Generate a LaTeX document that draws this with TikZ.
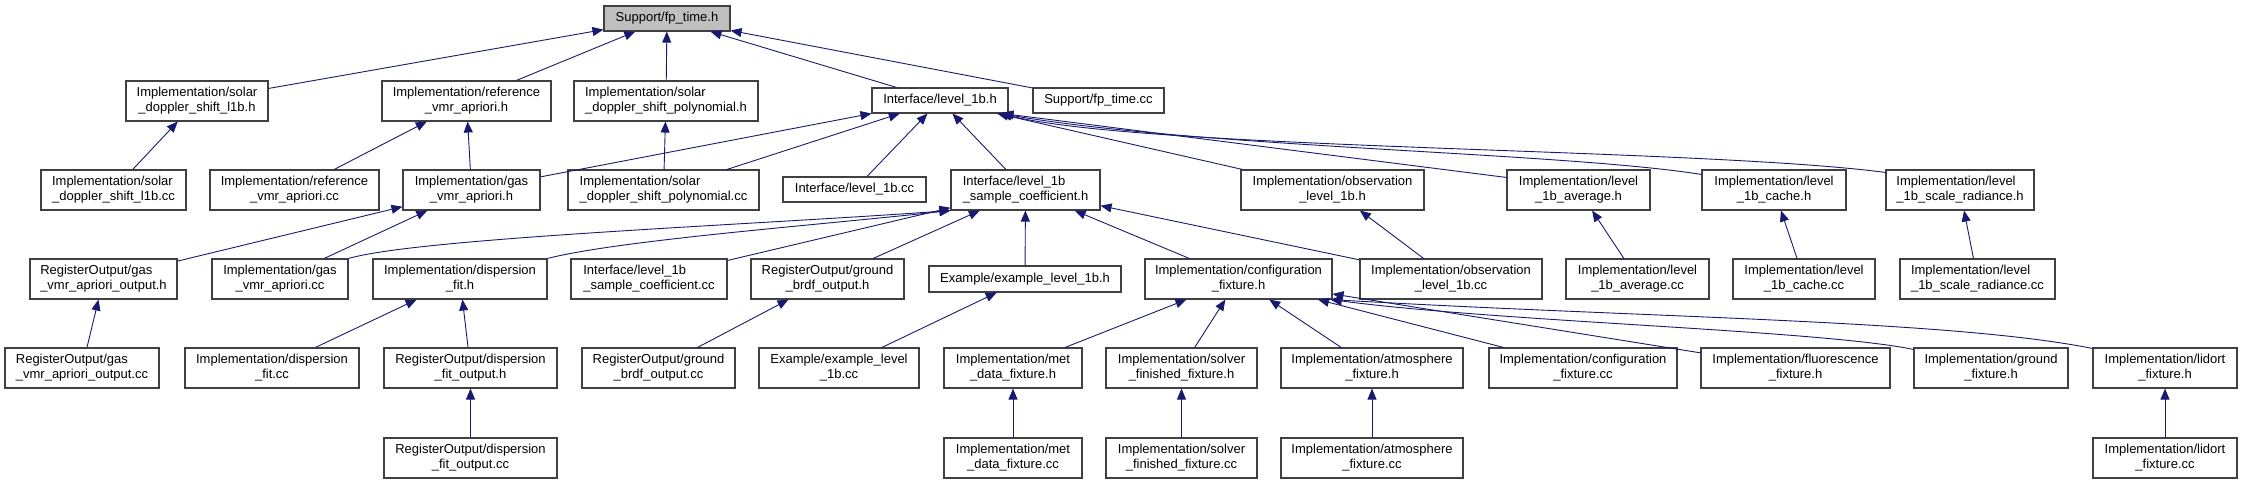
\documentclass[tikz,border=0pt]{standalone}
\usepackage{fontspec}
\setmainfont{Liberation Sans}
\usetikzlibrary{arrows.meta}
\definecolor{edgec}{HTML}{191970}
\definecolor{boxc}{HTML}{404040}
\definecolor{rootc}{HTML}{BFBFBF}
\newcommand{\twol}[2]{\begin{tabular}{@{}l@{}}#1\\\multicolumn{1}{@{}c@{}}{#2}\end{tabular}}
\begin{document}
\begin{tikzpicture}[x=1pt,y=-1pt,
  nb/.style={draw=boxc, fill=white, line width=1.1pt, inner sep=0pt, minimum height=40pt,
    font=\fontsize{13}{14.7}\selectfont},
  nb1/.style={nb, minimum height=25pt},
  root/.style={nb1, fill=rootc},
  edge/.style={draw=edgec, line width=0.9pt, -{Triangle[length=11pt,width=9pt]}}]
\useasboundingbox (0,0) rectangle (2242,484);
% row 0
\node[root, minimum width=126pt] (fp) at (667,18.5) {Support/fp\_time.h};
% row 1
\node[nb, minimum width=142pt] (sdsl1bh) at (197,101) {\twol{Implementation/solar}{\_doppler\_shift\_l1b.h}};
\node[nb, minimum width=169pt] (refh) at (466.5,101) {\twol{Implementation/reference}{\_vmr\_apriori.h}};
\node[nb, minimum width=184pt] (sdsph) at (666,101) {\twol{Implementation/solar}{\_doppler\_shift\_polynomial.h}};
\node[nb1, minimum width=136pt] (l1bh) at (940,100.5) {Interface/level\_1b.h};
\node[nb1, minimum width=131pt] (fpcc) at (1098.5,100.5) {Support/fp\_time.cc};
% row 2
\node[nb, minimum width=145pt] (sdsl1bcc) at (113.5,190) {\twol{Implementation/solar}{\_doppler\_shift\_l1b.cc}};
\node[nb, minimum width=169pt] (refcc) at (294.5,190) {\twol{Implementation/reference}{\_vmr\_apriori.cc}};
\node[nb, minimum width=137pt] (gash) at (471.5,190) {\twol{Implementation/gas}{\_vmr\_apriori.h}};
\node[nb, minimum width=191pt] (sdspcc) at (663.5,190) {\twol{Implementation/solar}{\_doppler\_shift\_polynomial.cc}};
\node[nb1, minimum width=143pt] (l1bcc) at (854.5,189.5) {Interface/level\_1b.cc};
\node[nb, minimum width=149pt] (sch) at (1025.5,190) {\twol{Interface/level\_1b}{\_sample\_coefficient.h}};
\node[nb, minimum width=183pt] (obsh) at (1332.5,190) {\twol{Implementation/observation}{\_level\_1b.h}};
\node[nb, minimum width=143pt] (avgh) at (1578.5,190) {\twol{Implementation/level}{\_1b\_average.h}};
\node[nb, minimum width=144pt] (cacheh) at (1774,190) {\twol{Implementation/level}{\_1b\_cache.h}};
\node[nb, minimum width=148pt] (scaleh) at (1960,190) {\twol{Implementation/level}{\_1b\_scale\_radiance.h}};
% row 3
\node[nb, minimum width=147pt] (gasouth) at (103.5,279) {\twol{RegisterOutput/gas}{\_vmr\_apriori\_output.h}};
\node[nb, minimum width=136pt] (gascc) at (280,279) {\twol{Implementation/gas}{\_vmr\_apriori.cc}};
\node[nb, minimum width=174pt] (disph) at (460,279) {\twol{Implementation/dispersion}{\_fit.h}};
\node[nb, minimum width=156pt] (sccc) at (649,279) {\twol{Interface/level\_1b}{\_sample\_coefficient.cc}};
\node[nb, minimum width=153pt] (gouth) at (827.5,279) {\twol{RegisterOutput/ground}{\_brdf\_output.h}};
\node[nb1, minimum width=192pt, minimum height=26pt] (exh) at (1025,279) {Example/example\_level\_1b.h};
\node[nb, minimum width=187pt] (confh) at (1238.5,279) {\twol{Implementation/configuration}{\_fixture.h}};
\node[nb, minimum width=182pt] (obscc) at (1451,279) {\twol{Implementation/observation}{\_level\_1b.cc}};
\node[nb, minimum width=143pt] (avgcc) at (1637.5,279) {\twol{Implementation/level}{\_1b\_average.cc}};
\node[nb, minimum width=142pt] (cachecc) at (1804,279) {\twol{Implementation/level}{\_1b\_cache.cc}};
\node[nb, minimum width=155pt] (scalecc) at (1977.5,279) {\twol{Implementation/level}{\_1b\_scale\_radiance.cc}};
% row 4
\node[nb, minimum width=154pt] (gasoutcc) at (82,368) {\twol{RegisterOutput/gas}{\_vmr\_apriori\_output.cc}};
\node[nb, minimum width=174pt] (dispcc) at (272,368) {\twol{Implementation/dispersion}{\_fit.cc}};
\node[nb, minimum width=173pt] (dispouth) at (470.5,368) {\twol{RegisterOutput/dispersion}{\_fit\_output.h}};
\node[nb, minimum width=153pt] (goutcc) at (658.5,368) {\twol{RegisterOutput/ground}{\_brdf\_output.cc}};
\node[nb, minimum width=160pt] (excc) at (839,368) {\twol{Example/example\_level}{\_1b.cc}};
\node[nb, minimum width=138pt] (meth) at (1013,368) {\twol{Implementation/met}{\_data\_fixture.h}};
\node[nb, minimum width=151pt] (solverh) at (1181.5,368) {\twol{Implementation/solver}{\_finished\_fixture.h}};
\node[nb, minimum width=182pt] (atmh) at (1372,368) {\twol{Implementation/atmosphere}{\_fixture.h}};
\node[nb, minimum width=188pt] (confcc) at (1583,368) {\twol{Implementation/configuration}{\_fixture.cc}};
\node[nb, minimum width=189pt] (fluorh) at (1795.5,368) {\twol{Implementation/fluorescence}{\_fixture.h}};
\node[nb, minimum width=154pt] (gfixh) at (1991,368) {\twol{Implementation/ground}{\_fixture.h}};
\node[nb, minimum width=144pt] (lidorth) at (2165,368) {\twol{Implementation/lidort}{\_fixture.h}};
% row 5
\node[nb, minimum width=173pt] (dispoutcc) at (470.5,458) {\twol{RegisterOutput/dispersion}{\_fit\_output.cc}};
\node[nb, minimum width=138pt] (metcc) at (1013,458) {\twol{Implementation/met}{\_data\_fixture.cc}};
\node[nb, minimum width=151pt] (solvercc) at (1181.5,458) {\twol{Implementation/solver}{\_finished\_fixture.cc}};
\node[nb, minimum width=182pt] (atmcc) at (1372,458) {\twol{Implementation/atmosphere}{\_fixture.cc}};
\node[nb, minimum width=144pt] (lidortcc) at (2165,458) {\twol{Implementation/lidort}{\_fixture.cc}};
% edges to fp_time.h
\draw[edge] (sdsl1bh) -- (fp);
\draw[edge] (refh) -- (fp);
\draw[edge] (sdsph) -- (fp);
\draw[edge] (l1bh) -- (fp);
\draw[edge] (fpcc) -- (fp);
% row 1 parents
\draw[edge] (sdsl1bcc) -- (sdsl1bh);
\draw[edge] (refcc) -- (refh);
\draw[edge] (gash) -- (refh);
\draw[edge] (sdspcc) -- (sdsph);
\draw[edge] (gash) -- (l1bh);
\draw[edge] (sdspcc) -- (l1bh);
\draw[edge] (l1bcc) -- (l1bh);
\draw[edge] (sch) -- (l1bh);
\draw[edge] (obsh) -- (l1bh);
\draw[edge] ([yshift=-8pt]avgh.north west) -- ([xshift=-6pt]l1bh.south east);
\draw[edge] ([yshift=-5pt]cacheh.north west) .. controls (1560,152) and (1200,148) .. ([xshift=-8pt]l1bh.south east);
\draw[edge] ([yshift=-3pt]scaleh.north west) .. controls (1700,148) and (1150,150) .. ([xshift=-8pt]l1bh.south east);
% row 2 parents
\draw[edge] (gasouth) -- (gash);
\draw[edge] (gascc) -- (gash);
\draw[edge] (gascc.north east) .. controls (420,238) and (750,225) .. (sch.south west);
\draw[edge] (disph.north east) .. controls (620,240) and (820,225) .. (sch.south west);
\draw[edge] (sccc) -- (sch);
\draw[edge] (gouth) -- (sch);
\draw[edge] (exh) -- (sch);
\draw[edge] (confh) -- (sch);
\draw[edge] (obscc) -- (sch);
\draw[edge] (obscc) -- (obsh);
\draw[edge] (avgcc) -- (avgh);
\draw[edge] (cachecc) -- (cacheh);
\draw[edge] (scalecc) -- (scaleh);
% row 3 parents
\draw[edge] (gasoutcc) -- (gasouth);
\draw[edge] (dispcc) -- (disph);
\draw[edge] (dispouth) -- (disph);
\draw[edge] (goutcc) -- (gouth);
\draw[edge] (excc) -- (exh);
\draw[edge] (meth) -- (confh);
\draw[edge] (solverh) -- (confh);
\draw[edge] (atmh) -- (confh);
\draw[edge] (confcc) -- (confh);
\draw[edge] (fluorh) -- (confh);
\draw[edge] ([yshift=-2pt]gfixh.north west) .. controls (1820,330) and (1500,322) .. ([xshift=-2pt]confh.south east);
\draw[edge] ([yshift=-1pt]lidorth.north west) .. controls (1950,320) and (1650,318) .. ([xshift=-2pt]confh.south east);
% row 4 parents
\draw[edge] (dispoutcc) -- (dispouth);
\draw[edge] (metcc) -- (meth);
\draw[edge] (solvercc) -- (solverh);
\draw[edge] (atmcc) -- (atmh);
\draw[edge] (lidortcc) -- (lidorth);
\end{tikzpicture}
\end{document}
